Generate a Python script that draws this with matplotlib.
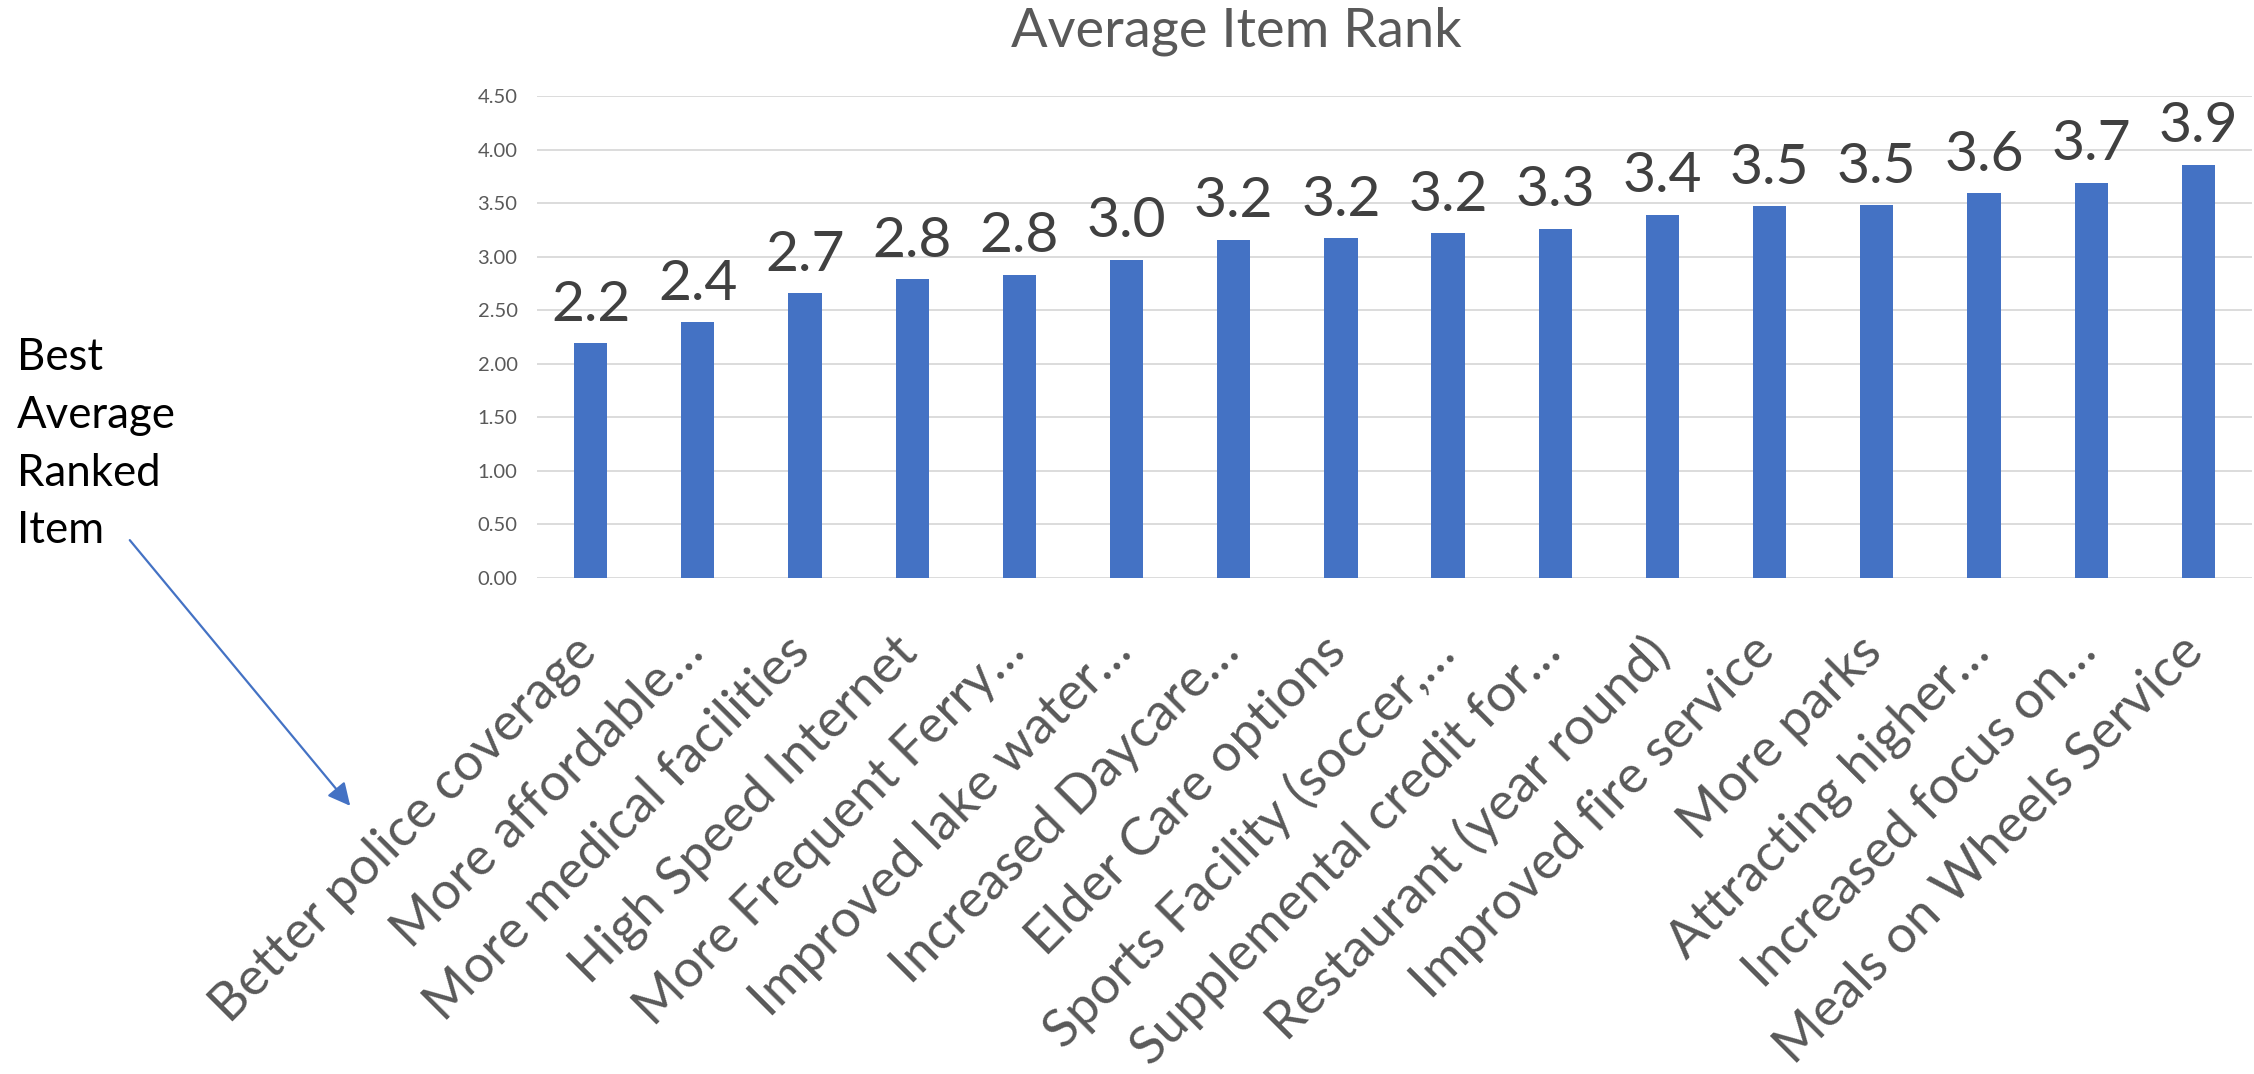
import matplotlib
matplotlib.use("Agg")
import matplotlib.pyplot as plt
from matplotlib.transforms import ScaledTranslation

categories = [
    "Better police coverage",
    "More affordable\u2026",
    "More medical facilities",
    "High Speed Internet",
    "More Frequent Ferry\u2026",
    "Improved lake water\u2026",
    "Increased Daycare\u2026",
    "Elder Care options",
    "Sports Facility (soccer,\u2026",
    "Supplemental credit for\u2026",
    "Restaurant (year round)",
    "Improved fire service",
    "More parks",
    "Attracting higher\u2026",
    "Increased focus on\u2026",
    "Meals on Wheels Service",
]
values = [2.19, 2.39, 2.66, 2.79, 2.83, 2.97, 3.16, 3.17, 3.22, 3.26,
          3.39, 3.47, 3.48, 3.59, 3.69, 3.86]
yticks = [0.0, 0.5, 1.0, 1.5, 2.0, 2.5, 3.0, 3.5, 4.0, 4.5]

plt.rcParams['font.family'] = ['Lato', 'DejaVu Sans']

fig = plt.figure(figsize=(22.54, 10.74), dpi=100)
ax = fig.add_axes([537/2254, 1-578/1074, (2252-537)/2254, (578-96)/1074])

x = list(range(len(categories)))
bars = ax.bar(x, values, width=0.31, color="#4472C4", zorder=3)

ax.set_xlim(-0.5, len(categories) - 0.5)
ax.set_ylim(0, 4.5)
ax.set_yticks(yticks)
ax.set_yticklabels([f"{v:.2f}" for v in yticks], fontsize=14.5, color="#595959")
ax.yaxis.grid(True, color="#D9D9D9", linewidth=1.3, zorder=0)
ax.set_axisbelow(True)
for s in ax.spines.values():
    s.set_visible(False)
ax.tick_params(axis='both', length=0)
ax.tick_params(axis='y', pad=14)

ax.set_xticks(x)
ax.set_xticklabels(categories, rotation=45, ha='right', va='top',
                   rotation_mode='anchor', fontsize=38, color="#595959")
ax.tick_params(axis='x', pad=22)
shift = ScaledTranslation(-0.19, -0.19, fig.dpi_scale_trans)
for lbl in ax.get_xticklabels():
    lbl.set_transform(lbl.get_transform() + shift)

for xi, v in zip(x, values):
    ax.annotate(f"{v:.1f}", (xi, v), xytext=(0, 9), textcoords='offset points',
                ha='center', va='bottom', fontsize=41, color="#404040",
                annotation_clip=False)

fig.text(1236/2254, 1-47/1074, "Average Item Rank", ha='center', va='baseline',
         fontsize=39, color="#595959")

fig.text(17/2254, 1-543/1074, "Best\nAverage\nRanked\nItem", ha='left', va='baseline',
         fontsize=31.5, color="black", linespacing=1.5)

fig.add_artist(matplotlib.patches.FancyArrowPatch(
    (128/2254, 1-538/1074), (352/2254, 1-808/1074), transform=fig.transFigure,
    arrowstyle='-|>', mutation_scale=34, color="#4472C4", linewidth=1.6))

fig.savefig("out.png", dpi=100)
